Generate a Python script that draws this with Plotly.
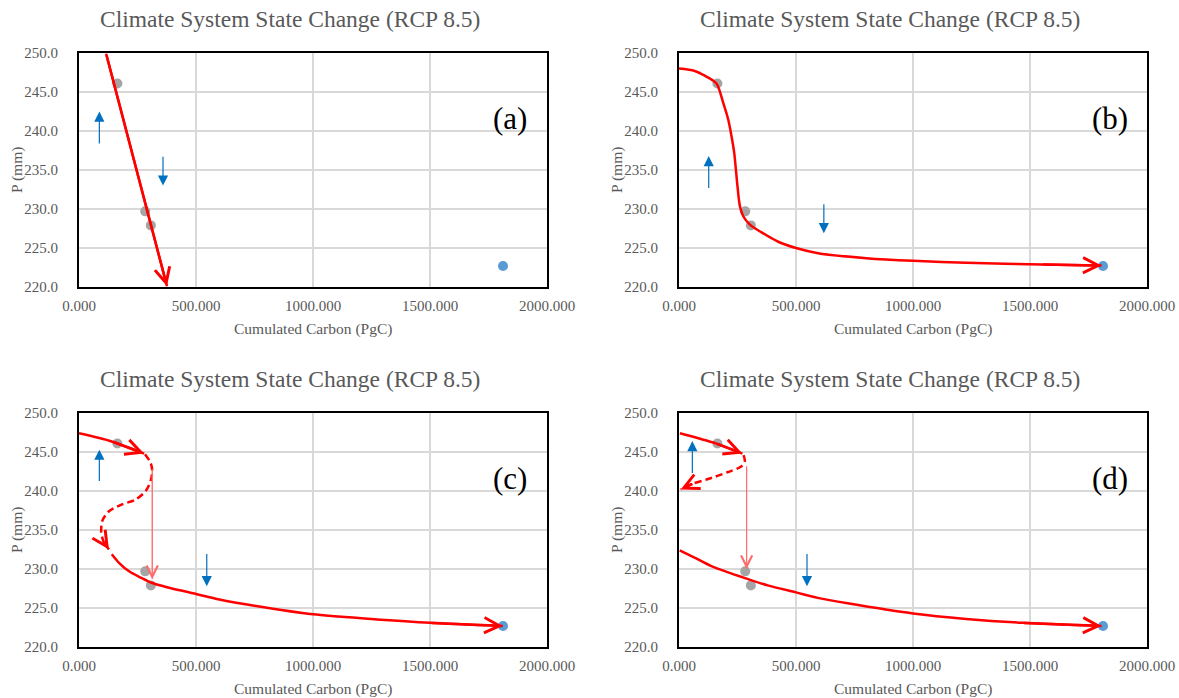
import plotly.graph_objects as go

W, H = 1179, 698

# ---------------- data ----------------
x_tickvals = [0, 500, 1000, 1500, 2000]
y_tickvals = [220, 225, 230, 235, 240, 245, 250]

obs_x = [164, 283, 307]          # observed states (grey)
obs_y = [246.1, 229.7, 227.9]
rcp_x = [1812]                   # RCP 8.5 end state (blue)
rcp_y = [222.7]

panel_labels = ["(a)", "(b)", "(c)", "(d)"]
label_x = [1843, 1843, 1843, 1843]
label_y = [241.6, 241.6, 241.6, 241.6]

# (a) straight pathway
a_x = [116, 376]
a_y = [249.9, 220.1]

# (b) smooth pathway
b_x = [0, 67, 110, 160, 189, 210, 224, 236, 243, 250, 260, 274, 303, 353, 424, 500,
       600, 800, 1000, 1228, 1549, 1806]
b_y = [248.0, 247.7, 247.1, 246.1, 243.6, 241.5, 239.4, 237.2, 235.1, 232.9, 230.4,
       229.1, 228.0, 227.0, 225.8, 225.0, 224.3, 223.7, 223.35, 223.1, 222.9, 222.75]

# (c) S-shaped pathway
c_up_x = [0, 140, 278]
c_up_y = [247.4, 246.35, 244.8]
c_dash_x = [282, 306, 313, 306, 285, 242, 185, 128, 100, 95, 104, 128]
c_dash_y = [244.7, 243.6, 242.6, 241.3, 240.0, 238.9, 238.3, 237.4, 236.2, 234.7, 233.6, 232.5]
c_low_x = [140, 171, 214, 264, 313, 385, 500, 600, 750, 1000, 1250, 1500, 1811]
c_low_y = [231.9, 230.8, 229.7, 228.9, 228.2, 227.6, 226.8, 226.1, 225.3, 224.2, 223.6, 223.1, 222.7]
c_drop_x = [313, 313]
c_drop_y = [242.8, 228.7]

# (d) hysteresis pathway
d_up_x = [4, 157, 271]
d_up_y = [247.4, 246.1, 244.8]
d_dash_x = [276, 281, 264, 207, 121, 64, 7]
d_dash_y = [244.6, 243.8, 243.1, 242.4, 241.5, 241.0, 240.2]
d_low_x = [3, 64, 136, 207, 286, 379, 500, 593, 721, 1000, 1227, 1468, 1806]
d_low_y = [232.4, 231.5, 230.4, 229.6, 228.8, 227.9, 227.0, 226.3, 225.6, 224.3, 223.6, 223.1, 222.7]
d_drop_x = [289, 289]
d_drop_y = [243.2, 230.0]

# blue direction arrows: x, tail y, tip y  (up arrow, down arrow) per panel
up_x = [87, 127, 87, 57]
up_y0 = [238.2, 232.5, 241.1, 242.1]
up_y1 = [242.5, 236.8, 245.3, 246.4]
dn_x = [359, 619, 546, 547]
dn_y0 = [236.9, 230.8, 232.1, 232.1]
dn_y1 = [233.0, 226.9, 227.8, 227.8]

title_text = "Climate System State Change (RCP 8.5)"
x_title = "Cumulated Carbon (PgC)"
y_title = "P (mm)"

# ---------------- layout geometry (screen pixels) ----------------
cols_px = [(79, 547), (679, 1147)]
rows_px = [(53, 287), (413, 647)]


def px(sx):
    return sx / W


def py(sy):
    return 1 - sy / H


RED = "#FF0000"
THIN_RED = "#FF6B6B"
BLUE_ARROW = "#0070C0"
GREY = "#A5A5A5"
BLUE_PT = "#5B9BD5"
TXT = "#595959"
FONT = "Liberation Serif"

fig = go.Figure()
annotations = []

curves = [
    [(a_x, a_y, "solid")],
    [(b_x, b_y, "solid")],
    [(c_up_x, c_up_y, "solid"), (c_dash_x, c_dash_y, "7px,4px"), (c_low_x, c_low_y, "solid")],
    [(d_up_x, d_up_y, "solid"), (d_dash_x, d_dash_y, "7px,4px"), (d_low_x, d_low_y, "solid")],
]
drops = [None, None, (c_drop_x, c_drop_y), (d_drop_x, d_drop_y)]

layout_axes = {}
for i in range(4):
    r, c = divmod(i, 2)
    xs = "" if i == 0 else str(i + 1)
    xref, yref = "x" + xs, "y" + xs
    x0, x1 = cols_px[c]
    y0, y1 = rows_px[r]
    layout_axes["xaxis" + xs] = dict(
        domain=[px(x0), px(x1)], range=[0, 2000], anchor=yref,
        tickvals=x_tickvals, tickformat=".3f", ticks="", ticklabelstandoff=4,
        showgrid=True, gridcolor="#D9D9D9", gridwidth=1.5, zeroline=False,
        showline=True, linecolor="black", linewidth=2, mirror=True,
        tickfont=dict(family=FONT, size=15, color=TXT), automargin=False,
    )
    layout_axes["yaxis" + xs] = dict(
        domain=[py(y1), py(y0)], range=[220, 250], anchor=xref,
        tickvals=y_tickvals, tickformat=".1f", ticks="", ticklabelstandoff=16,
        showgrid=True, gridcolor="#D9D9D9", gridwidth=1.5, zeroline=False,
        showline=True, linecolor="black", linewidth=2, mirror=True,
        tickfont=dict(family=FONT, size=15, color=TXT), automargin=False,
    )

    fig.add_trace(go.Scatter(x=obs_x, y=obs_y, mode="markers", xaxis=xref, yaxis=yref,
                             marker=dict(color=GREY, size=10), showlegend=False))
    fig.add_trace(go.Scatter(x=rcp_x, y=rcp_y, mode="markers", xaxis=xref, yaxis=yref,
                             marker=dict(color=BLUE_PT, size=10), showlegend=False))

    for (cx, cy, dash) in curves[i]:
        fig.add_trace(go.Scatter(x=cx, y=cy, mode="lines", xaxis=xref, yaxis=yref,
                                 line=dict(color=RED, width=2.5, dash=dash,
                                           shape="spline", smoothing=0.8),
                                 showlegend=False))
        annotations.append(dict(
            x=cx[-1], y=cy[-1], ax=cx[-2], ay=cy[-2], xref=xref, yref=yref,
            axref=xref, ayref=yref, showarrow=True, text="",
            arrowhead=5, arrowsize=1.2, arrowwidth=2.5, arrowcolor=RED))

    if drops[i] is not None:
        dx, dy = drops[i]
        fig.add_trace(go.Scatter(x=dx, y=dy, mode="lines", xaxis=xref, yaxis=yref,
                                 line=dict(color=THIN_RED, width=1), showlegend=False))
        annotations.append(dict(
            x=dx[1], y=dy[1], ax=dx[0], ay=dy[0], xref=xref, yref=yref,
            axref=xref, ayref=yref, showarrow=True, text="",
            arrowhead=5, arrowsize=2.2, arrowwidth=1, arrowcolor=THIN_RED))

    for (bx, by0, by1) in [(up_x[i], up_y0[i], up_y1[i]), (dn_x[i], dn_y0[i], dn_y1[i])]:
        annotations.append(dict(
            x=bx, y=by1, ax=bx, ay=by0, xref=xref, yref=yref,
            axref=xref, ayref=yref, showarrow=True, text="",
            arrowhead=2, arrowsize=1.7, arrowwidth=1.2, arrowcolor=BLUE_ARROW))

    annotations.append(dict(
        x=label_x[i], y=label_y[i], xref=xref, yref=yref, text=panel_labels[i],
        showarrow=False, font=dict(family=FONT, size=31, color="black"),
        xanchor="center", yanchor="middle"))

    title_cx = x0 + 0.451 * (x1 - x0)
    annotations.append(dict(
        x=px(title_cx), y=py(y0 - 34), xref="paper", yref="paper",
        text=title_text, showarrow=False,
        font=dict(family=FONT, size=23.5, color=TXT), xanchor="center", yanchor="middle"))
    annotations.append(dict(
        x=px((x0 + x1) / 2), y=py(y1 + 42), xref="paper", yref="paper",
        text=x_title, showarrow=False,
        font=dict(family=FONT, size=15.5, color=TXT), xanchor="center", yanchor="middle"))
    annotations.append(dict(
        x=px(x0 - 62), y=py((y0 + y1) / 2), xref="paper", yref="paper",
        text=y_title, showarrow=False, textangle=-90,
        font=dict(family=FONT, size=15.5, color=TXT), xanchor="center", yanchor="middle"))

fig.update_layout(
    width=W, height=H, margin=dict(l=0, r=0, t=0, b=0),
    paper_bgcolor="white", plot_bgcolor="white",
    annotations=annotations, showlegend=False,
    **layout_axes,
)

fig.write_html(
    "out.html",
    config={"displayModeBar": False},
    post_script="document.body.style.margin='0px';document.body.style.overflow='hidden';",
)
